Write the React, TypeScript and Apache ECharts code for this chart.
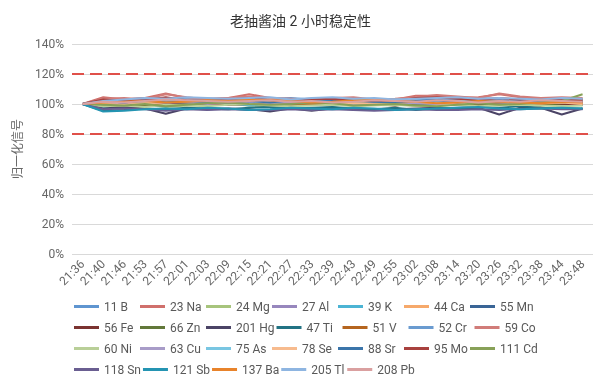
import React, { useEffect, useRef } from "react";
import * as echarts from "echarts";

const categories = ["21:36","21:40","21:46","21:53","21:57","22:01","22:03","22:09","22:15","22:21","22:27","22:33","22:39","22:43","22:49","22:55","23:02","23:08","23:14","23:20","23:26","23:32","23:38","23:44","23:48"];

const yTicks = [0, 20, 40, 60, 80, 100, 120, 140];
const limitLines = [120, 80];

const seriesNames = ["11 B","23 Na","24 Mg","27 Al","39 K","44 Ca","55 Mn","56 Fe","66 Zn","201 Hg","47 Ti","51 V","52 Cr","59 Co","60 Ni","63 Cu","75 As","78 Se","88 Sr","95 Mo","111 Cd","118 Sn","121 Sb","137 Ba","205 Tl","208 Pb"];

const seriesColors = ["#5f95d0","#d0706c","#a7c47c","#9787bd","#4cb4d4","#f6a96b","#3a6596","#7b3331","#62783a","#4b4466","#227384","#b5651f","#6a9bd0","#d17c79","#b9cf98","#a89cc8","#79c6e2","#f7bb8e","#3b75aa","#a8413e","#88a158","#6a5e91","#2494b2","#e8832b","#8eb5e1","#daa0a0"];

const B11 = [100,102.5,103,104,103.5,102,101.5,102,103,102.5,101,102,103,102,101.5,102,103,102,101,102.5,103,102,103.5,102,101];
const Na23 = [100,104.5,103,104,107,104,103.5,104,106.5,104,103,103.5,104,103,102.5,103,105.5,105.5,104,104.5,106.5,104.5,103.5,104,103];
const Mg24 = [100,99,98.5,99.5,98,99,99.5,100,99,98.5,99.5,100,99,100,99.5,99,100,99.5,100,99,100.5,99.5,99,100,99.5];
const Al27 = [100,101,100.5,101.5,100,101,102,101,100.5,101.5,102,101,100,101,101.5,100.5,101,102,101,100,101.5,102,101,100.5,101];
const K39 = [100,98,97.5,99,98.5,100,101,100.5,99,100,101.5,100,102,103,101,100,99.5,101,102,103,102,103.5,102,101,100.5];
const Ca44 = [100,101.5,102,101,102.5,102,103,102.5,102,103,102,103,102.5,101.5,102,102.5,101,100.5,101,102,101.5,100.5,101.5,101,100.5];
const Mn55 = [100,103,102,103.5,102,101.5,102,102.5,103.5,102,101.5,103,102,101,102,101.5,102.5,103,102,101,102.5,103,102,101.5,102];
const Fe56 = [100,100.5,101,100,99.5,100,100.5,99.5,100,100.5,99,100,100.5,99.5,100,99,100.5,101,100,99.5,100,100.5,99.5,100,99.5];
const Zn66 = [100,99,98.5,99.5,99,100,100.5,101,102,101.5,100,101,100.5,99.5,100,100.5,99,99.5,100,99,99.5,100,99,100.5,101];
const Hg201 = [100,97,98,97,93.5,97,96.5,97,96.5,95,97,95.5,97,96.5,96,96.5,97,97.5,97,97.5,93,97.5,97.5,93,97];
const Ti47 = [100,95.5,96,97,96.5,97.5,97,96.5,97.5,98,97,97.5,98,97,96.5,97.5,96,97,97.5,98,97.5,98.5,97.5,97,97];
const V51 = [100,100.5,99.5,100,99,99.5,100,100.5,101,100,99.5,100,100.5,101,100.5,100,100.5,101,100,100.5,101,100.5,100,101,100.5];
const Cr52 = [100,102,101.5,103,104,103.5,102.5,103,104,103.5,104,103,104,103.5,102.5,103,104,103.5,103,104,103.5,102.5,103,104,103.5];
const Co59 = [100,103.5,104,103,106.5,104.5,103,104,105,104,103.5,103,104,104.5,103,103.5,104.5,106,105,104,107,105,104,104.5,104];
const Ni60 = [100,98.5,99,98,99.5,99,98.5,99.5,100,99,98.5,99,99.5,98.5,99,99.5,98.5,99,99.5,98.5,99,99.5,99,98.5,99];
const Cu63 = [100,100,101,100.5,101.5,101,100,101,101.5,100.5,101,101.5,101,100,100.5,101,100.5,100,101,101.5,101,100.5,101,101.5,101];
const As75 = [100,101,102,101.5,103,102.5,102,103,102,101.5,102.5,103,102,101.5,102,103,102.5,101.5,102,103,102,101.5,102.5,103,102];
const Se78 = [100,100,99.5,100.5,101,102,101.5,101,102,103,102.5,101.5,101,100.5,100,101,101.5,100.5,100,101,101.5,101,100.5,101,100];
const Sr88 = [100,102,101,102.5,101,102,101.5,101,102,101,102.5,101.5,102,102.5,101.5,101,102,102.5,101,102,101.5,102,101,102.5,101.5];
const Mo95 = [100,103,102,102.5,104.5,102.5,102,103,104,102.5,102,103,103.5,102,102.5,102,104,104.5,103.5,102.5,104,103,102.5,103,102.5];
const Cd111 = [100,99.5,99,100,98.5,99.5,100.5,101,100,99.5,100,101,100.5,99,99.5,100,99,98.5,99.5,100.5,99.5,100,101,102,106.5];
const Sn118 = [100,96.5,97,96.5,95.5,96.5,96,96.5,96,96,96.5,96,96.5,96,95.5,96,96.5,96,96,96.5,96,96.5,97,96.5,96.5];
const Sb121 = [100,95,95.5,96.5,97,96.5,97.5,97,96,96.5,97.5,97,96.5,97.5,97,96,96.5,97,97.5,98,97,96.5,97,97.5,97];
const Ba137 = [100,101,101.5,102,101,101.5,102.5,102,103,102.5,102,101,101.5,102.5,103,102,101.5,100.5,101,102,101.5,101,100.5,101.5,101];
const Tl205 = [100,102,103,104,103.5,104.5,104,103.5,104,104.5,103,104,104.5,103.5,104,103,103.5,104,104.5,103.5,104,103.5,103,104,103.5];
const Pb208 = [100,101.5,101,102,103,102.5,102,101.5,102,102.5,101.5,102,101,101.5,102.5,102,101.5,102.5,102,101,102,101.5,102.5,102,101.5];

const seriesValues = [B11,Na23,Mg24,Al27,K39,Ca44,Mn55,Fe56,Zn66,Hg201,Ti47,V51,Cr52,Co59,Ni60,Cu63,As75,Se78,Sr88,Mo95,Cd111,Sn118,Sb121,Ba137,Tl205,Pb208];

const FONT = 'Roboto, "Noto Sans CJK SC", sans-serif';

export default function App() {
  const ref = useRef<HTMLDivElement>(null);
  useEffect(() => {
    if (!ref.current) return;
    const chart = echarts.init(ref.current, undefined, { renderer: "svg" });
    const series: any[] = seriesNames.map((name, i) => ({
      name,
      type: "line",
      data: seriesValues[i],
      showSymbol: false,
      symbol: "none",
      color: seriesColors[i],
      lineStyle: { width: 2, color: seriesColors[i] },
      z: 2,
    }));
    series[0].markLine = {
      silent: true,
      symbol: "none",
      label: { show: false },
      lineStyle: { color: "#e0504a", width: 2, type: [12, 6] },
      data: limitLines.map((v) => ({ yAxis: v })),
      z: 5,
    };
    chart.setOption({
      animation: false,
      textStyle: { fontFamily: FONT },
      title: {
        text: "老抽酱油 2 小时稳定性",
        left: "center",
        top: 9,
        textStyle: { fontSize: 14, fontWeight: "normal", color: "#333", fontFamily: FONT },
      },
      grid: { left: 72, right: 8, top: 44, bottom: 133 },
      legend: {
        left: 69,
        top: 292,
        width: 470,
        icon: "rect",
        itemWidth: 25,
        itemHeight: 3,
        itemGap: 2,
        textStyle: {
          fontSize: 12,
          color: "#595959",
          width: 34,
          lineHeight: 19,
          backgroundColor: "transparent",
          fontFamily: FONT,
        },
        data: seriesNames,
      },
      xAxis: {
        type: "category",
        data: categories,
        boundaryGap: true,
        axisLine: { show: false },
        axisTick: { show: false },
        axisLabel: { rotate: 45, interval: 0, fontSize: 12, color: "#666", fontFamily: FONT },
      },
      yAxis: {
        type: "value",
        min: yTicks[0],
        max: yTicks[yTicks.length - 1],
        interval: 20,
        name: "归一化信号",
        nameLocation: "middle",
        nameGap: 48,
        nameTextStyle: { fontSize: 12, color: "#666", fontFamily: FONT },
        axisLabel: { formatter: "{value}%", fontSize: 12, color: "#666", fontFamily: FONT },
        splitLine: { lineStyle: { color: "#d9d9d9", width: 1 } },
        axisLine: { show: false },
        axisTick: { show: false },
      },
      series,
    });
    return () => chart.dispose();
  }, []);
  return <div ref={ref} style={{ position: "fixed", left: 0, top: 0, width: 601, height: 387 }} />;
}
